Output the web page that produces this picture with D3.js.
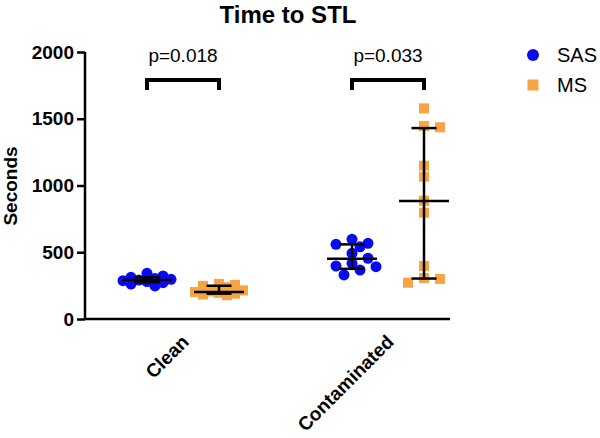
<!DOCTYPE html>
<html>
<head>
<meta charset="utf-8">
<script src="https://cdn.jsdelivr.net/npm/d3@7"></script>
<style>
  body { margin: 0; background: #fff; }
  svg { display: block; font-family: "Liberation Sans", Arial, sans-serif; }
</style>
</head>
<body>
<div id="chart"></div>
<script>
// data
const categories = ["Clean", "Contaminated"];
const seriesNames = ["SAS", "MS"];
const seriesColors = ["#0a0af0", "#f9a444"];

// raw points (seconds)
const cleanSAS = [342, 322, 312, 304, 297, 292, 287, 281, 272, 262, 248];
const cleanMS = [262, 256, 248, 238, 214, 206, 202, 196, 190, 184, 178];
const contSAS = [597, 567, 559, 541, 492, 455, 417, 397, 392, 367, 330];
const contMS = [1578, 1446, 1436, 1148, 1066, 886, 796, 397, 307, 300, 272];

// median with interquartile range, per category, per series
const medians = [[292, 202], [452, 884]];
const lowerQ = [[276, 190], [376, 303]];
const upperQ = [[312, 249], [559, 1430]];

const pValues = ["p=0.018", "p=0.033"];
const yTicks = [0, 500, 1000, 1500, 2000];

const points = [[cleanSAS, cleanMS], [contSAS, contMS]];

const width = 600, height = 438;
const svg = d3.select("#chart").append("svg")
  .attr("width", width)
  .attr("height", height);

const axisX = 85, axisRight = 450;
const y = d3.scaleLinear().domain([0, 2000]).range([319, 52]);
const x = d3.scalePoint().domain(categories).range([axisX + 98, axisRight - 62]);
const off = d3.scalePoint().domain(seriesNames).range([-36, 36]);

// title
svg.append("text")
  .attr("x", 288).attr("y", 23)
  .attr("text-anchor", "middle")
  .style("font-weight", "bold").style("font-size", "24px")
  .text("Time to STL");

// y axis
const yAxis = svg.append("g")
  .attr("transform", `translate(${axisX},0)`)
  .call(d3.axisLeft(y).tickValues(yTicks).tickSize(8).tickPadding(3).tickFormat(d3.format("d")));
yAxis.select(".domain").attr("stroke", "#000").attr("stroke-width", 2.5)
  .attr("d", `M0,${y(2000)}V${y(0)}`);
yAxis.selectAll(".tick line").attr("stroke", "#000").attr("stroke-width", 2.5);
yAxis.selectAll(".tick text")
  .style("font-family", "Liberation Sans, Arial, sans-serif")
  .style("font-weight", "bold").style("font-size", "19px").attr("fill", "#000");

// x axis line
svg.append("line")
  .attr("x1", axisX).attr("x2", axisRight)
  .attr("y1", y(0)).attr("y2", y(0))
  .attr("stroke", "#000").attr("stroke-width", 2.5);

// category labels
categories.forEach(c => {
  svg.append("text")
    .attr("transform", `translate(${x(c) + 7},${y(0) + 24}) rotate(-45)`)
    .attr("text-anchor", "end")
    .style("font-weight", "bold").style("font-size", "19px")
    .text(c);
});

// y label
svg.append("text")
  .attr("transform", `translate(17,186) rotate(-90)`)
  .attr("text-anchor", "middle")
  .style("font-weight", "bold").style("font-size", "19px")
  .text("Seconds");

// simple beeswarm: spread close values sideways, allowing some overlap
function swarm(values, step, minDist, maxK) {
  const placed = [];
  const sorted = values.slice().sort((a, b) => b - a);
  sorted.forEach(v => {
    const py = y(v);
    const cands = [0];
    for (let k = 1; k <= maxK; k++) cands.push(k * step, -k * step);
    let chosen = null, best = -1, bestDx = 0;
    for (const dx of cands) {
      const dmin = placed.length ? d3.min(placed, p => Math.hypot(p.dx - dx, p.py - py)) : Infinity;
      if (dmin >= minDist) { chosen = dx; break; }
      if (dmin > best) { best = dmin; bestDx = dx; }
    }
    placed.push({ v, py, dx: chosen === null ? bestDx : chosen });
  });
  return placed;
}

const r = 5.5;
categories.forEach((c, ci) => {
  seriesNames.forEach((s, si) => {
    const cx = x(c) + off(s);
    const pts = swarm(points[ci][si], 8, 9.5, 3);
    const g = svg.append("g");
    if (si === 0) {
      g.selectAll("circle").data(pts).enter().append("circle")
        .attr("cx", d => cx + d.dx).attr("cy", d => d.py)
        .attr("r", r).attr("fill", seriesColors[si]);
    } else {
      g.selectAll("rect").data(pts).enter().append("rect")
        .attr("x", d => cx + d.dx - 5).attr("y", d => d.py - 5)
        .attr("width", 10).attr("height", 10).attr("fill", seriesColors[si]);
    }
    // median + IQR
    const lo = y(lowerQ[ci][si]), hi = y(upperQ[ci][si]), md = y(medians[ci][si]);
    g.append("line").attr("x1", cx).attr("x2", cx).attr("y1", lo).attr("y2", hi)
      .attr("stroke", "#000").attr("stroke-width", 2.5);
    [lo, hi].forEach(yy => {
      g.append("line").attr("x1", cx - 12.5).attr("x2", cx + 12.5).attr("y1", yy).attr("y2", yy)
        .attr("stroke", "#000").attr("stroke-width", 2.5);
    });
    g.append("line").attr("x1", cx - 25).attr("x2", cx + 25).attr("y1", md).attr("y2", md)
      .attr("stroke", "#000").attr("stroke-width", 2.5);
  });

  // significance bracket
  const x1 = x(c) + off("SAS"), x2 = x(c) + off("MS");
  svg.append("path")
    .attr("d", `M${x1},90V80H${x2}V90`)
    .attr("fill", "none").attr("stroke", "#000").attr("stroke-width", 4);
  svg.append("text")
    .attr("x", (x1 + x2) / 2).attr("y", 62)
    .attr("text-anchor", "middle")
    .style("font-size", "19px")
    .text(pValues[ci]);
});

// legend
const legend = svg.append("g").attr("transform", "translate(533,55)");
seriesNames.forEach((s, i) => {
  const row = legend.append("g").attr("transform", `translate(0,${i * 30})`);
  if (i === 0) row.append("circle").attr("r", 6).attr("fill", seriesColors[i]);
  else row.append("rect").attr("x", -5.5).attr("y", -5.5).attr("width", 11).attr("height", 11).attr("fill", seriesColors[i]);
  row.append("text").attr("x", 24).attr("y", 7).style("font-size", "20px").text(s);
});
</script>
</body>
</html>
